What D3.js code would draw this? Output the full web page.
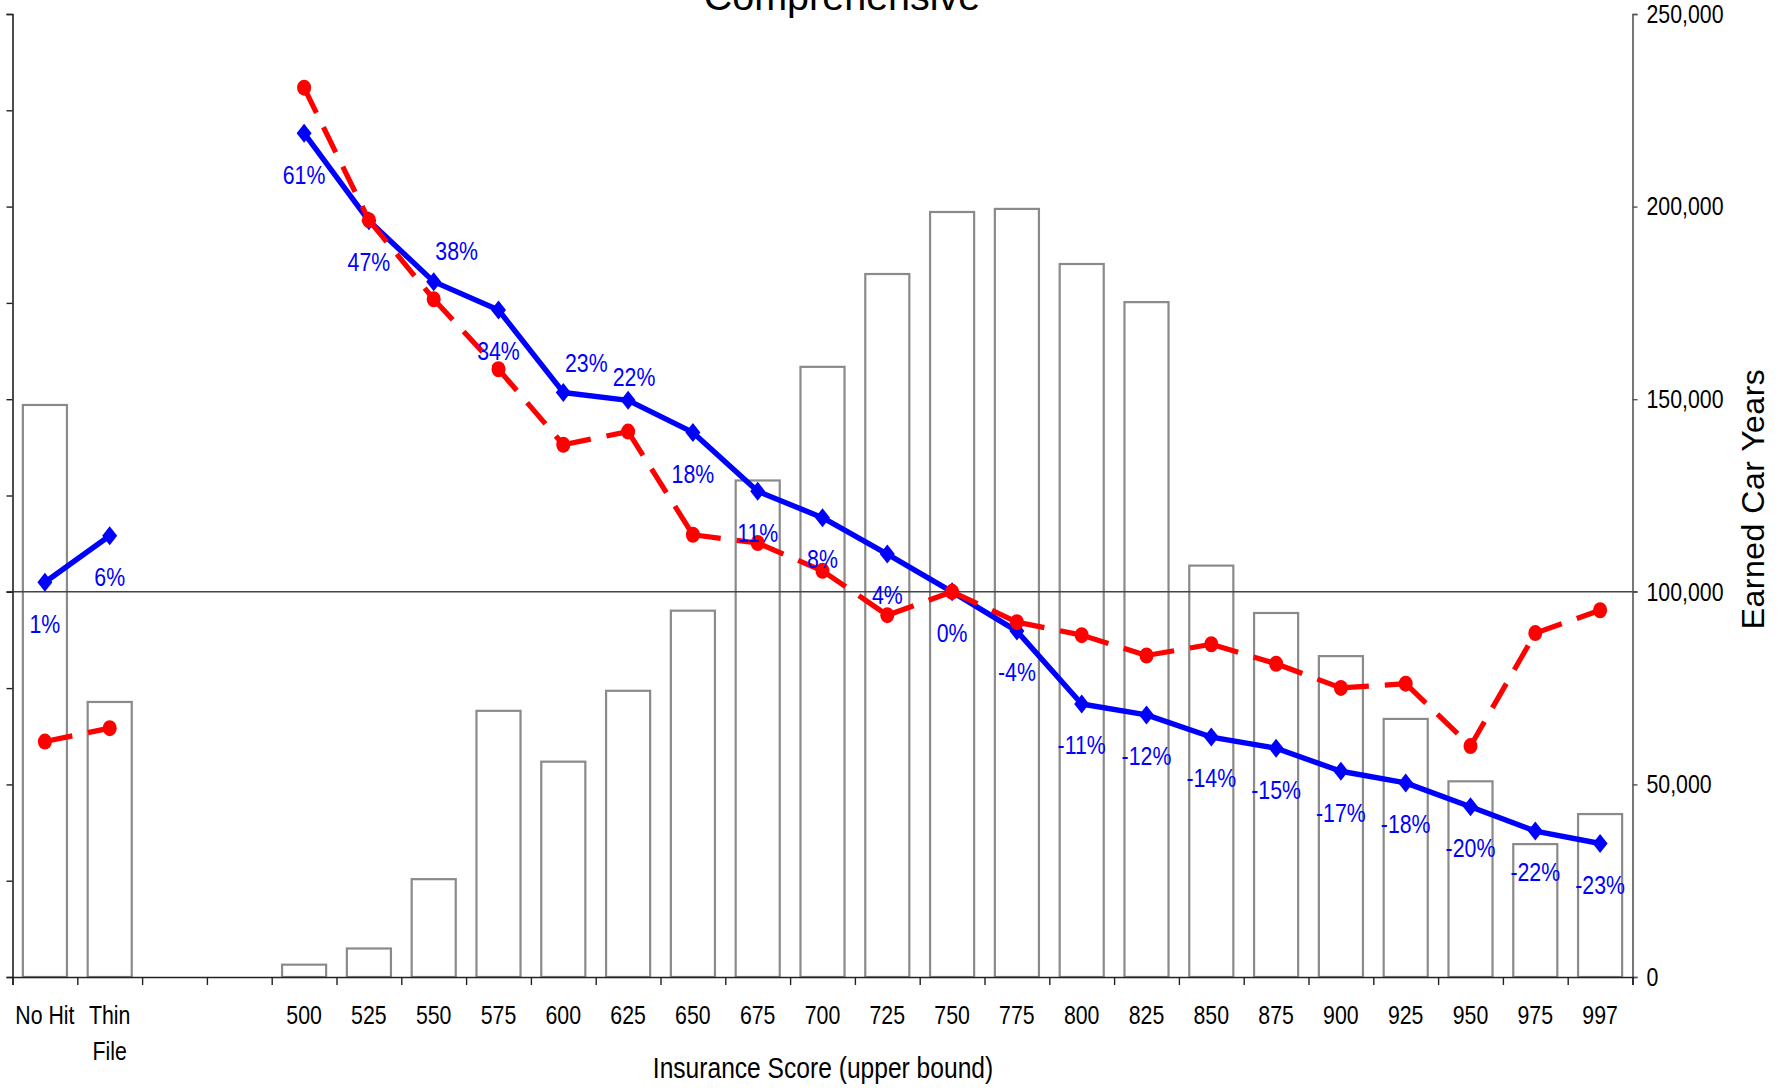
<!DOCTYPE html>
<html>
<head>
<meta charset="utf-8">
<script src="https://cdn.jsdelivr.net/npm/d3@7"></script>
<style>
  html, body { margin: 0; padding: 0; background: #fff; }
  svg { display: block; }
  text { font-family: "Liberation Sans", Arial, sans-serif; }
</style>
</head>
<body>
<svg id="chart" width="1789" height="1090"></svg>
<script>
// ---- data ----
const categories = ["No Hit", "Thin File", "", "", "500", "525", "550", "575", "600", "625",
  "650", "675", "700", "725", "750", "775", "800", "825", "850", "875", "900", "925",
  "950", "975", "997"];

// earned car years per score band (right axis)
const earnedCarYears = [148500, 71400, null, null, 3200, 7400, 25400, 69100, 55900, 74300,
  95100, 128900, 158400, 182500, 198600, 199400, 185100, 175200, 106800, 94500, 83300,
  67000, 50800, 34500, 42300];

// loss ratio relativity, percent vs. base (solid blue, labelled)
const relativityPct = [1, 6, null, null, 61, 47, 38, 34, 23, 22, 18, 11, 8, 4, 0, -4, -11,
  -12, -14, -15, -17, -18, -20, -22, -23];

// comparison relativity (dashed red)
const comparisonRel = [0.856, 0.868, null, null, 1.688, 1.471, 1.355, 1.260, 1.165, 1.181,
  1.061, 1.052, 1.022, 0.976, 1.000, 0.969, 0.956, 0.936, 0.947, 0.928, 0.905, 0.909,
  0.852, 0.958, 0.981];

const rightTicks = [0, 50000, 100000, 150000, 200000, 250000];

// ---- layout ----
const plot = { left: 12.5, right: 1632.5, top: 14, bottom: 977 };
const SQ = 0.82; // horizontal squeeze for the narrow label face
const svg = d3.select("#chart");

const x = d3.scaleBand()
  .domain(d3.range(categories.length))
  .range([plot.left, plot.right])
  .paddingInner(0).paddingOuter(0);
const cx = i => x(i) + x.bandwidth() / 2;

const yBars = d3.scaleLinear().domain([0, 250000]).range([plot.bottom, plot.top]);
const yRel = d3.scaleLog().domain([Math.exp(-0.4), Math.exp(0.6)]).range([plot.bottom, plot.top]);

function squeeze(sel) {
  sel.each(function () {
    const t = d3.select(this);
    const tx = +t.attr("x") || 0;
    t.attr("x", tx / SQ).attr("transform", `scale(${SQ},1)`);
  });
}

// ---- bars ----
const barW = x.bandwidth() * 0.68;
svg.append("g").selectAll("rect")
  .data(earnedCarYears.map((v, i) => ({ v, i })).filter(d => d.v != null))
  .join("rect")
  .attr("x", d => cx(d.i) - barW / 2)
  .attr("y", d => yBars(d.v))
  .attr("width", barW)
  .attr("height", d => yBars(0) - yBars(d.v))
  .attr("fill", "#fff")
  .attr("stroke", "#8a8a8a")
  .attr("stroke-width", 2.2);

// ---- base relativity line (1.00) ----
svg.append("line")
  .attr("x1", plot.left - 6).attr("x2", plot.right + 5)
  .attr("y1", yRel(1)).attr("y2", yRel(1))
  .attr("stroke", "#444").attr("stroke-width", 1.6);

// ---- axes ----
// left axis: relativity ticks, unlabelled
const leftAxis = d3.axisLeft(yRel)
  .tickValues(d3.range(-4, 7).map(k => Math.exp(k / 10)))
  .tickSize(6).tickFormat("");
svg.append("g").attr("transform", `translate(${plot.left},0)`).call(leftAxis)
  .call(g => g.select(".domain").attr("stroke", "#222").attr("stroke-width", 1.6))
  .call(g => g.selectAll(".tick line").attr("stroke", "#222").attr("stroke-width", 1.4));

// right axis: earned car years
const rightAxis = d3.axisRight(yBars)
  .tickValues(rightTicks).tickSize(5).tickPadding(9)
  .tickFormat(d3.format(","));
svg.append("g").attr("transform", `translate(${plot.right},0)`).call(rightAxis)
  .call(g => g.select(".domain").attr("stroke", "#555").attr("stroke-width", 1.6))
  .call(g => g.selectAll(".tick line").attr("stroke", "#555").attr("stroke-width", 1.4))
  .call(g => g.selectAll(".tick text")
    .attr("font-size", 26).attr("fill", "#000")
    .attr("font-family", "'Liberation Sans', Arial, sans-serif")
    .call(squeeze));

// bottom axis: tick marks on band boundaries
const boundary = d3.scaleLinear().domain([0, categories.length]).range([plot.left, plot.right]);
const bottomAxis = d3.axisBottom(boundary)
  .tickValues(d3.range(0, categories.length + 1)).tickSize(8).tickFormat("");
svg.append("g").attr("transform", `translate(0,${plot.bottom})`).call(bottomAxis)
  .call(g => g.select(".domain").attr("stroke", "#222").attr("stroke-width", 1.6))
  .call(g => g.selectAll(".tick line").attr("stroke", "#222").attr("stroke-width", 1.4));

// category labels (the two-word band wraps onto two lines)
const catG = svg.append("g");
categories.forEach((c, i) => {
  if (!c) return;
  const lines = c === "Thin File" ? ["Thin", "File"] : [c];
  lines.forEach((ln, k) => {
    catG.append("text")
      .attr("x", cx(i)).attr("y", 1024 + k * 36.5)
      .attr("text-anchor", "middle")
      .attr("font-size", 26)
      .text(ln);
  });
});
squeeze(catG.selectAll("text"));

// ---- series ----
const bluePts = relativityPct.map((p, i) => ({ i, v: p == null ? null : 1 + p / 100, p }));
const redPts = comparisonRel.map((v, i) => ({ i, v }));

const line = d3.line()
  .defined(d => d.v != null)
  .x(d => cx(d.i)).y(d => yRel(d.v));

svg.append("path")
  .datum(bluePts)
  .attr("d", line)
  .attr("fill", "none").attr("stroke", "#0000ff")
  .attr("stroke-width", 5.4).attr("stroke-linejoin", "round");

svg.append("g").selectAll("path")
  .data(bluePts.filter(d => d.v != null))
  .join("path")
  .attr("transform", d => `translate(${cx(d.i)},${yRel(d.v)})`)
  .attr("d", "M0,-9.5L7.5,0L0,9.5L-7.5,0Z")
  .attr("fill", "#0000ff");

// dashed comparison line, dash pattern restarting at every point
const redSegs = [];
for (let i = 0; i < redPts.length - 1; i++) {
  if (redPts[i].v != null && redPts[i + 1].v != null) redSegs.push([redPts[i], redPts[i + 1]]);
}
svg.append("g").selectAll("path")
  .data(redSegs)
  .join("path")
  .attr("d", line)
  .attr("fill", "none").attr("stroke", "#ff0000")
  .attr("stroke-width", 5.2).attr("stroke-dasharray", "28,16");

svg.append("g").selectAll("ellipse")
  .data(redPts.filter(d => d.v != null))
  .join("ellipse")
  .attr("cx", d => cx(d.i)).attr("cy", d => yRel(d.v))
  .attr("rx", 7).attr("ry", 8)
  .attr("fill", "#ff0000");

// ---- value labels ----
const labelShift = { 6: [23, -31], 8: [23, -30], 9: [6, -24] };
const lblG = svg.append("g");
bluePts.filter(d => d.v != null).forEach(d => {
  const [dx, dy] = labelShift[d.i] || [0, 41];
  lblG.append("text")
    .attr("x", cx(d.i) + dx).attr("y", yRel(d.v) + dy)
    .attr("dy", "0.36em")
    .attr("text-anchor", "middle")
    .attr("font-size", 26)
    .attr("fill", "#0000ff")
    .text(String(d.p) + "%");
});
squeeze(lblG.selectAll("text"));

// ---- titles ----
svg.append("text")
  .attr("x", 842).attr("y", 10)
  .attr("text-anchor", "middle")
  .attr("font-size", 39.5)
  .text("Comprehensive");

svg.append("text")
  .attr("x", 823).attr("y", 1078)
  .attr("text-anchor", "middle")
  .attr("font-size", 30)
  .text("Insurance Score (upper bound)")
  .call(squeeze);

svg.append("text")
  .attr("transform", "translate(1752,499) rotate(-90)")
  .attr("text-anchor", "middle")
  .attr("dy", "0.36em")
  .attr("font-size", 32)
  .attr("letter-spacing", 0.5)
  .text("Earned Car Years");
</script>
</body>
</html>
